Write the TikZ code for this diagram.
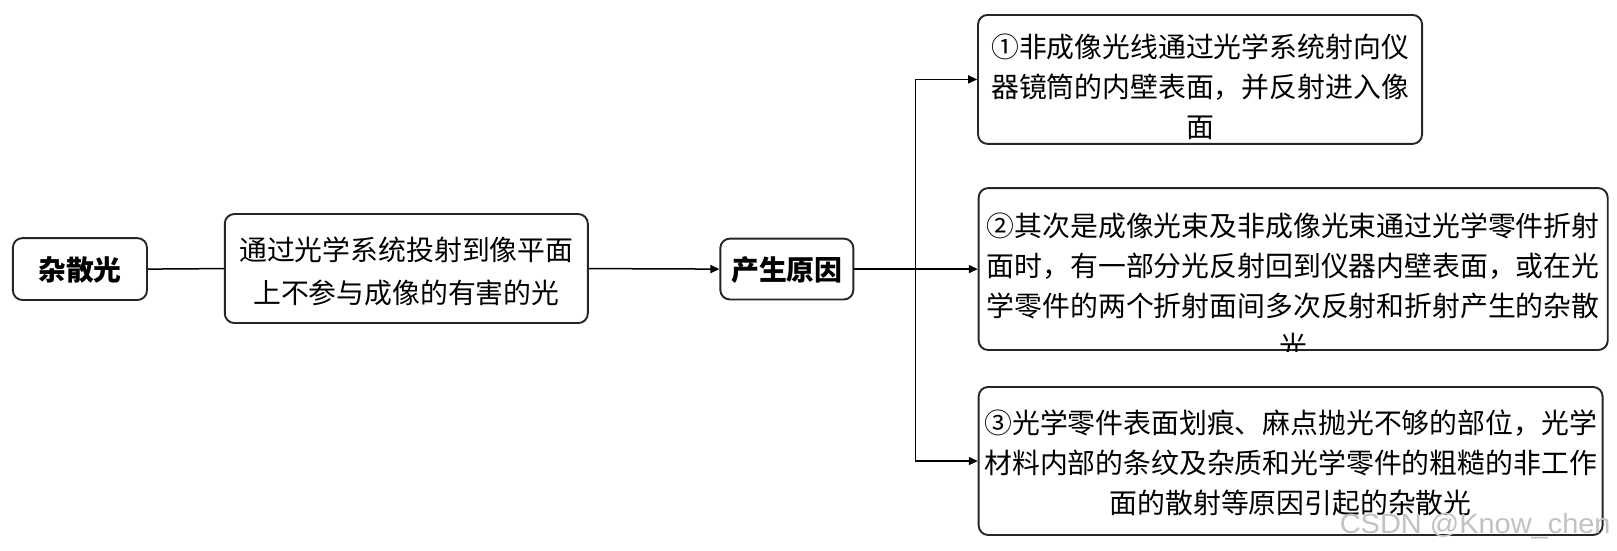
\documentclass[tikz,border=0pt]{standalone}
\usepackage{fontspec}
\setmainfont{Noto Sans CJK SC}
\newfontfamily\wmfont{Liberation Sans}
\usetikzlibrary{arrows.meta}
\begin{document}
\begin{tikzpicture}[x=1pt,y=-1pt,scale=1.03125,every node/.append style={transform shape},
  bx/.style={draw=black!85, line width=1.9pt, rounded corners=9.5pt, inner sep=0pt},
  txt/.style={align=center, inner sep=0pt, font=\fontsize{27}{38.8}\selectfont},
  btxt/.style={txt, font=\fontsize{27}{38.8}\selectfont\bfseries},
  con/.style={draw=black, line width=1.5pt},
  arr/.style={con, -{Triangle[length=9pt,width=8pt]}}]
\useasboundingbox (0,0) rectangle (1568,534.3);
\fill[white] (0,0) rectangle (1568,534.3);

% boxes
\node[bx, minimum width=130, minimum height=60] (zs) at (77.5,260.9) {};
\node[bx, minimum width=352, minimum height=105.7] (def) at (394,260.4) {};
\node[bx, minimum width=129, minimum height=59] (cause) at (763,260.9) {};
\node[bx, minimum width=430.6, minimum height=125] (b1) at (1163.7,77) {};
\node[bx, minimum width=610, minimum height=157] (b2) at (1254,260.9) {};
\node[bx, minimum width=605, minimum height=143.5] (b3) at (1251.5,447) {};

% texts
\node[btxt] (zst) at (77.5,261.8) {杂散光};
\node[txt, font=\fontsize{27}{41.6}\selectfont] (deft) at (394,263.3) {通过光学系统投射到像平面\\上不参与成像的有害的光};
\node[btxt] (causet) at (763,261.5) {产生原因};
\node[txt] (b1t) at (1163.7,84.4)
  {①非成像光线通过光学系统射向仪\\器镜筒的内壁表面，并反射进入像\\面};
\begin{scope}
  \clip[rounded corners=9.5pt] (b2.south west) rectangle (b2.north east);
  \node[txt] (b2t) at (1254,277)
    {②其次是成像光束及非成像光束通过光学零件折射\\面时，有一部分光反射回到仪器内壁表面，或在光\\学零件的两个折射面间多次反射和折射产生的杂散\\光};
\end{scope}
\node[txt] (b3t) at (1251.5,448.5)
  {③光学零件表面划痕、麻点抛光不够的部位，光学\\材料内部的条纹及杂质和光学零件的粗糙的非工作\\面的散射等原因引起的杂散光};

% connectors
\draw[con] (zs.east) -- (def.west);
\draw[arr] (def.east) -- (cause.west);
\coordinate (tr) at (887.4,260.9);
\draw[con] (cause.east) -- (tr);
\draw[arr] (tr) |- (b1.west);
\draw[arr] (tr) -- (b2.west);
\draw[arr] (tr) |- (b3.west);

% watermark
\node[inner sep=0pt, anchor=base west, text=black!24, font=\wmfont\fontsize{27}{27}\selectfont, xscale=1.04] (wm) at (1299,517) {CSDN @Know\_chen};
\end{tikzpicture}
\end{document}
